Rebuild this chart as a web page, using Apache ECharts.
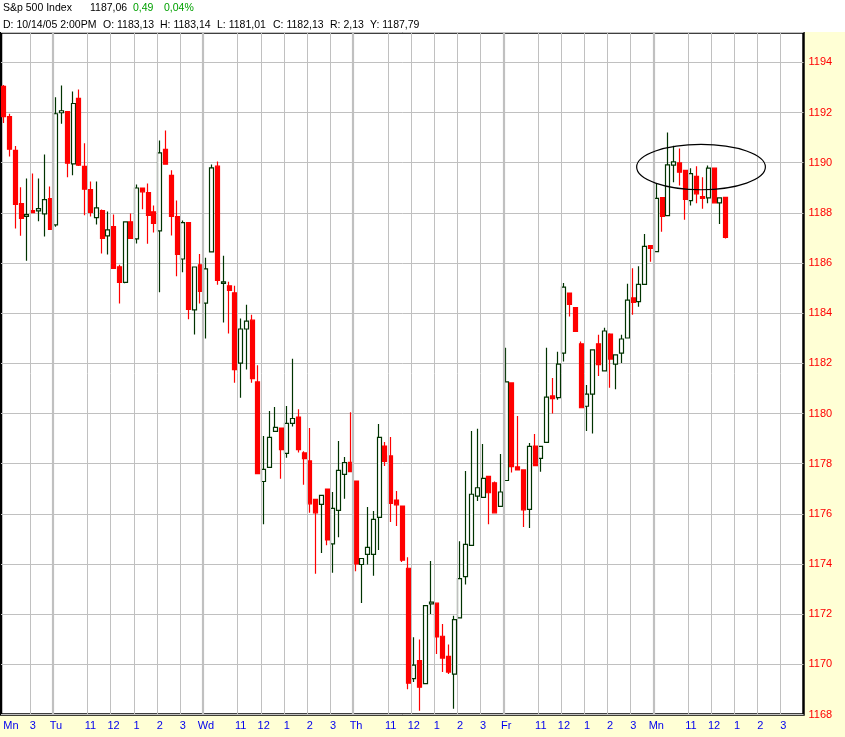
<!DOCTYPE html>
<html><head><meta charset="utf-8">
<script src="https://cdn.jsdelivr.net/npm/echarts@6/dist/echarts.min.js"></script>
<style>html,body{margin:0;padding:0;background:#FFFFD5}#c{width:845px;height:737px}</style>
</head><body><div id="c"></div>
<script>
// ---------- data ----------
const sessionDates = ['10/10', '10/11', '10/12', '10/13', '10/14', '10/17'];
const dayAbbr = {'10/10': 'Mn', '10/11': 'Tu', '10/12': 'Wd', '10/13': 'Th', '10/14': 'Fr', '10/17': 'Mn'};
const firstBarTime = '13:45';
const hourLabels = {'11:00': '11', '12:00': '12', '13:00': '1', '14:00': '2', '15:00': '3'};

const opens = [1193.04,1191.84,1190.49,1188.37,1187.86,1188.09,1188.08,1187.96,1188.57,1187.52,
1191.99,1192.04,1189.95,1192.56,1189.85,1188.93,1187.81,1188.09,1187.08,1187.45,
1185.85,1185.23,1187.64,1186.96,1188.99,1188.81,1188.04,1187.28,1190.53,1189.49,
1187.85,1186.16,1187.61,1184.13,1185.93,1184.40,1186.44,1189.86,1185.19,1185.09,
1184.81,1182.01,1183.37,1183.72,1181.26,1177.29,1177.85,1179.29,1179.42,1178.41,
1179.61,1179.86,1178.43,1178.11,1176.58,1176.38,1176.99,1174.80,1176.14,1177.57,
1178.05,1177.31,1173.98,1174.38,1174.38,1175.86,1178.70,1178.31,1176.55,1176.31,
1173.83,1169.43,1170.15,1169.23,1172.41,1172.44,1171.12,1170.32,1169.61,1171.85,
1173.50,1174.74,1176.71,1176.66,1177.49,1177.24,1176.30,1177.33,1181.22,1177.87,
1177.75,1176.18,1178.70,1178.21,1178.85,1180.70,1180.63,1182.41,1184.80,1184.22,
1182.78,1180.29,1180.77,1182.78,1181.70,1183.17,1181.97,1182.41,1183.01,1184.61,
1184.46,1185.15,1186.69,1186.45,1188.61,1187.89,1189.90,1189.99,1189.69,1188.49,
1189.45,1188.65,1188.60,1189.78,1188.40,1188.62];
const closes = [1191.84,1190.54,1188.34,1187.78,1187.93,1188.01,1188.17,1188.53,1187.34,1191.95,
1192.07,1189.98,1192.36,1189.90,1188.94,1188.02,1188.20,1186.98,1187.32,1185.79,
1185.23,1187.64,1186.98,1188.99,1188.84,1187.90,1187.58,1190.39,1189.94,1187.86,
1186.34,1187.61,1184.15,1185.84,1184.87,1185.77,1189.79,1185.31,1185.25,1184.91,
1181.75,1183.37,1183.68,1181.39,1177.60,1177.77,1179.05,1179.45,1178.56,1179.61,
1179.80,1178.56,1178.20,1176.40,1176.04,1176.74,1174.96,1176.22,1177.73,1178.04,
1177.68,1174.00,1174.22,1174.66,1175.78,1179.05,1178.09,1176.42,1176.36,1174.15,
1169.25,1169.97,1169.09,1172.34,1172.48,1171.09,1170.25,1169.69,1171.78,1173.42,
1174.78,1176.78,1177.04,1177.41,1176.84,1176.04,1176.87,1181.26,1177.88,1177.75,
1176.16,1178.69,1177.92,1178.69,1180.65,1180.59,1181.97,1185.04,1184.35,1183.27,
1180.23,1180.77,1182.54,1181.95,1183.29,1182.17,1182.34,1182.97,1184.52,1184.43,
1185.15,1186.66,1186.58,1188.58,1187.86,1189.91,1190.03,1189.62,1188.54,1189.56,
1188.76,1188.58,1189.78,1188.40,1188.60,1187.02];
const lows = [1191.58,1190.25,1187.38,1187.09,1186.09,1188.00,1187.66,1187.06,1187.34,1187.45,
1191.55,1189.42,1189.50,1189.87,1187.90,1187.85,1187.54,1186.38,1186.34,1185.79,
1184.39,1185.19,1186.98,1186.78,1188.14,1186.77,1187.22,1184.83,1189.94,1187.10,
1185.47,1185.63,1183.76,1183.15,1184.39,1182.99,1186.44,1185.13,1183.63,1183.19,
1181.23,1180.63,1181.75,1181.23,1177.60,1175.58,1177.85,1179.29,1177.40,1178.24,
1179.48,1178.45,1177.16,1176.04,1173.61,1174.44,1174.75,1173.65,1175.07,1176.60,
1177.68,1173.71,1172.45,1173.98,1173.53,1174.56,1177.91,1175.67,1175.52,1174.08,
1169.01,1169.30,1168.15,1169.23,1172.01,1170.41,1169.69,1169.61,1168.23,1171.85,
1173.18,1174.74,1176.51,1176.66,1175.58,1176.04,1176.30,1177.33,1177.65,1177.75,
1175.48,1175.44,1177.92,1177.68,1178.85,1180.00,1180.55,1182.07,1183.87,1183.27,
1180.23,1179.30,1179.20,1181.50,1181.70,1181.03,1180.97,1182.01,1183.01,1183.94,
1184.26,1185.15,1186.05,1186.45,1187.25,1187.89,1189.22,1189.09,1187.72,1188.29,
1188.38,1188.16,1188.38,1188.40,1187.56,1186.98];
const highs = [1193.10,1191.95,1190.66,1189.02,1189.37,1189.57,1189.37,1190.33,1189.05,1192.61,
1193.08,1192.04,1192.84,1192.92,1190.77,1189.25,1189.25,1188.13,1188.05,1187.93,
1185.93,1187.64,1187.97,1189.13,1188.99,1189.17,1188.29,1190.88,1191.28,1189.70,
1188.49,1187.69,1187.61,1185.84,1186.36,1186.21,1189.93,1190.05,1186.29,1185.25,
1185.09,1183.79,1184.34,1183.94,1181.92,1179.10,1180.10,1180.26,1179.42,1180.30,
1182.18,1180.17,1178.50,1179.42,1176.58,1176.74,1176.99,1176.87,1178.90,1178.27,
1180.05,1177.31,1174.24,1176.27,1176.11,1179.58,1178.86,1179.06,1176.91,1176.31,
1174.27,1171.08,1170.99,1172.34,1174.12,1172.44,1171.61,1170.79,1171.94,1174.91,
1177.71,1179.30,1179.39,1178.78,1177.49,1177.29,1178.39,1182.62,1181.22,1179.90,
1177.75,1178.82,1179.18,1178.69,1182.62,1181.42,1182.46,1185.20,1184.80,1184.22,
1182.87,1181.14,1182.54,1183.14,1183.42,1183.20,1182.34,1183.14,1185.17,1185.79,
1185.87,1187.16,1186.69,1189.16,1188.61,1191.20,1190.67,1190.57,1189.69,1189.78,
1189.86,1189.42,1189.89,1189.78,1188.60,1188.62];

const yMin = 1168, yMax = 1195.19, yStep = 2;

// header texts
const titleText = 'S&p 500 Index';
const lastText = '1187,06';
const changeText = '0,49';
const changePctText = '0,04%';
const infoTexts = ['D: 10/14/05 2:00PM', 'O: 1183,13', 'H: 1183,14', 'L: 1181,01', 'C: 1182,13', 'R: 2,13', 'Y: 1187,79'];

// annotation ellipse (in data units: bar index / price)
const ANNO = {fromIndex: 109.6, toIndex: 131.9, low: 1188.92, high: 1190.73};

// ---------- build categories ----------
const sessionTimes = [];
for (let m = 9 * 60 + 30; m < 16 * 60; m += 15) {
  sessionTimes.push(String(Math.floor(m / 60)).padStart(2, '0') + ':' + String(m % 60).padStart(2, '0'));
}
const categories = [];
sessionDates.forEach((d, di) => {
  const times = di === 0 ? sessionTimes.slice(sessionTimes.indexOf(firstBarTime)) : sessionTimes;
  times.forEach(t => categories.push(d + ' ' + t));
});

function labelFor(index, value) {
  const parts = value.split(' ');
  if (index === 0 || parts[1] === '09:30') return dayAbbr[parts[0]];
  if (index < 3) return '';
  return hourLabels[parts[1]] || '';
}
// boundaries (in bar units, left edge of a bar) for grid lines
const hourBounds = [], dayBounds = [];
categories.forEach((c, i) => {
  const t = c.split(' ')[1];
  if (i > 0 && t === '09:30') dayBounds.push(i);
  else if (i >= 3 && hourLabels[t]) hourBounds.push(i);
});

const candleData = opens.map((o, i) => [o, closes[i], lows[i], highs[i]]);

const FONT = '"Liberation Sans", Arial, sans-serif';
const headerGraphics = [
  {type: 'rect', id: 'hdrbg', shape: {x: 0, y: 0, width: 845, height: 32}, style: {fill: '#ffffff'}, silent: true},
];
function txt(id, x, y, text, fill) {
  return {type: 'text', id: id, x: x, y: y, style: {text: text, fill: fill, font: '10.5px ' + FONT, verticalAlign: 'middle'}};
}
headerGraphics.push(txt('t0', 3, 8.5, titleText, '#000'));
headerGraphics.push(txt('t1', 90, 8.5, lastText, '#000'));
headerGraphics.push(txt('t2', 133, 8.5, changeText, '#00A000'));
headerGraphics.push(txt('t3', 164, 8.5, changePctText, '#00A000'));
const infoX = [3, 103, 160, 217, 273, 330, 370];
infoTexts.forEach((t, i) => headerGraphics.push(txt('i' + i, infoX[i], 25, t, '#000')));

const gridLineData = hourBounds.map(b => ({xAxis: b, lineStyle: {color: '#C0C0C0', width: 1, type: 'solid'}}))
  .concat(dayBounds.map(b => ({xAxis: b, lineStyle: {color: '#C0C0C0', width: 2.2, type: 'solid'}})));

const chart = echarts.init(document.getElementById('c'));
const option = {
  animation: false,
  backgroundColor: '#FFFFD5',
  grid: {left: 1, right: 41.5, top: 32.5, bottom: 22.5, show: true, backgroundColor: '#ffffff', borderColor: '#000000', borderWidth: 2.5},
  xAxis: [
    {
      type: 'category', data: categories, boundaryGap: true, position: 'bottom',
      axisLine: {show: false}, axisTick: {show: false}, splitLine: {show: false},
      axisLabel: {
        interval: 0,
        formatter: (v, i) => {
          const l = labelFor(i, v);
          return i === 0 ? '{s|' + l + '}' : l;
        },
        color: '#0000EE', fontSize: 11, fontFamily: FONT, margin: 6,
        rich: {s: {padding: [0, 0, 0, 14], color: '#0000EE', fontSize: 11, fontFamily: FONT}}
      }
    },
    {
      type: 'value', min: 0, max: categories.length, show: false, position: 'top'
    }
  ],
  yAxis: {
    type: 'value', position: 'right', min: yMin, max: yMax, interval: yStep,
    axisLine: {show: false}, axisTick: {show: false},
    axisLabel: {color: '#FF0000', fontSize: 11, fontFamily: FONT, margin: 5, showMaxLabel: false,
      formatter: v => String(Math.round(v))},
    splitLine: {show: true, lineStyle: {color: '#C0C0C0', width: 1}}
  },
  series: [
    {
      type: 'line', xAxisIndex: 1, yAxisIndex: 0, data: [], silent: true, z: 1,
      markLine: {silent: true, symbol: ['none', 'none'], label: {show: false}, animation: false, data: gridLineData}
    },
    {
      type: 'candlestick',
      xAxisIndex: 0, yAxisIndex: 0, z: 3,
      data: candleData,
      barWidth: 4.5,
      itemStyle: {color: '#ffffff', color0: '#FF0000', borderColor: '#003300', borderColor0: '#FF0000', borderWidth: 1.2}
    }
  ],
  graphic: headerGraphics
};
chart.setOption(option);

// ellipse annotation placed through the chart's own coordinate conversion
const pa = chart.convertToPixel({xAxisIndex: 0, yAxisIndex: 0}, [0, ANNO.low]);
const pb = chart.convertToPixel({xAxisIndex: 0, yAxisIndex: 0}, [100, ANNO.high]);
const slotPx = (pb[0] - pa[0]) / 100;
const xl = pa[0] + slotPx * ANNO.fromIndex, xr = pa[0] + slotPx * ANNO.toIndex;
chart.setOption({graphic: [{
  type: 'ellipse', id: 'anno',
  shape: {cx: (xl + xr) / 2, cy: (pa[1] + pb[1]) / 2, rx: (xr - xl) / 2, ry: Math.abs(pa[1] - pb[1]) / 2},
  style: {fill: 'none', stroke: '#000000', lineWidth: 1.2}, z: 10
}]});
</script></body></html>
